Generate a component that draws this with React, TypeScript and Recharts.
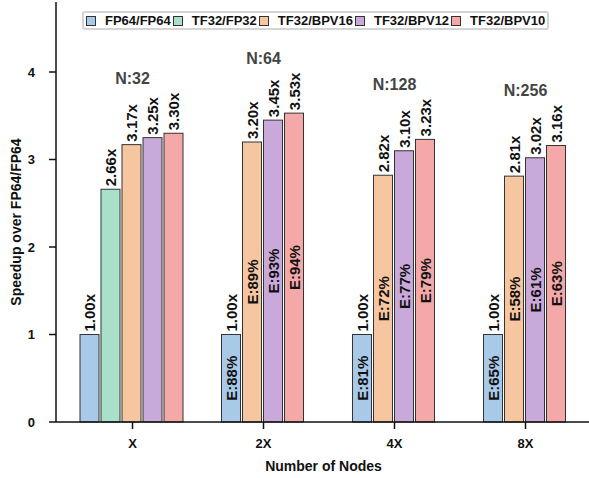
import { BarChart, Bar, XAxis, YAxis, ReferenceDot } from 'recharts'

// Node-count groups along the x axis
const categories = ['X', '2X', '4X', '8X']
const nodeCounts = ['N:32', 'N:64', 'N:128', 'N:256']

// Speedup over FP64/FP64 for each configuration
const fp64 = [1.0, 1.0, 1.0, 1.0]
const tf32Fp32 = [2.66, null, null, null]
const tf32Bpv16 = [3.17, 3.2, 2.82, 2.81]
const tf32Bpv12 = [3.25, 3.45, 3.1, 3.02]
const tf32Bpv10 = [3.3, 3.53, 3.23, 3.16]

// Parallel efficiency (%) shown inside the bars
const effFp64 = [null, 88, 81, 65]
const effBpv16 = [null, 89, 72, 58]
const effBpv12 = [null, 93, 77, 61]
const effBpv10 = [null, 94, 79, 63]

const yTicks = [0, 1, 2, 3, 4]

const FONT = '"Liberation Sans", Arial, Helvetica, sans-serif'
const BAR_GAP = 2

const series = [
  { key: 'fp64', eff: 'effFp64', name: 'FP64/FP64', color: '#a9c9e8' },
  { key: 'fp32', eff: null, name: 'TF32/FP32', color: '#a9e0c9' },
  { key: 'bpv16', eff: 'effBpv16', name: 'TF32/BPV16', color: '#f6c6a0' },
  { key: 'bpv12', eff: 'effBpv12', name: 'TF32/BPV12', color: '#c9a9d9' },
  { key: 'bpv10', eff: 'effBpv10', name: 'TF32/BPV10', color: '#f4a8a8' },
]

const data = categories.map((category, i) => ({
  category,
  nodes: nodeCounts[i],
  fp64: fp64[i],
  fp32: tf32Fp32[i],
  bpv16: tf32Bpv16[i],
  bpv12: tf32Bpv12[i],
  bpv10: tf32Bpv10[i],
  effFp64: effFp64[i],
  effBpv16: effBpv16[i],
  effBpv12: effBpv12[i],
  effBpv10: effBpv10[i],
}))

// Bar with its speedup label on top and efficiency label inside.
// Groups without a TF32/FP32 bar get their remaining bars pulled together.
function makeShape(key: string, effKey: string | null) {
  return (props: any) => {
    const { x, y, width, height, payload, fill } = props
    const value = payload[key]
    if (value == null) return <g />
    let shift = 0
    if (payload.fp32 == null) {
      shift = key === 'fp64' ? (width + BAR_GAP) / 2 : -(width + BAR_GAP) / 2
    }
    const bx = x + shift
    const cx = bx + width / 2
    const ty = y - 3
    const eff = effKey ? payload[effKey] : null
    const cy = y + height / 2
    return (
      <g>
        <rect x={bx} y={y} width={width} height={height} fill={fill} stroke="#333" strokeWidth={1} />
        <text
          x={cx}
          y={ty}
          transform={`rotate(-90 ${cx} ${ty})`}
          textAnchor="start"
          dominantBaseline="central"
          fontSize={15}
          fontWeight="bold"
          fill="#111"
        >
          {`${value.toFixed(2)}x`}
        </text>
        {eff != null && (
          <text
            x={cx}
            y={cy}
            transform={`rotate(-90 ${cx} ${cy})`}
            textAnchor="middle"
            dominantBaseline="central"
            fontSize={15}
            fontWeight="bold"
            fill="#111"
          >
            {`E:${eff}%`}
          </text>
        )}
      </g>
    )
  }
}

function YTitle(props: any) {
  const { viewBox } = props
  const cx = viewBox.x + 16
  const cy = viewBox.y + viewBox.height / 2 + 10
  return (
    <text
      x={cx}
      y={cy}
      transform={`rotate(-90 ${cx} ${cy})`}
      textAnchor="middle"
      dominantBaseline="central"
      fontSize={14}
      fontWeight="bold"
      fill="#111"
    >
      Speedup over FP64/FP64
    </text>
  )
}

function NodeLabel(text: string) {
  return (props: any) => {
    const { viewBox } = props
    const cx = viewBox.x + (viewBox.width || 0) / 2
    const cy = viewBox.y - 55
    return (
      <text x={cx} y={cy} textAnchor="middle" dominantBaseline="central" fontSize={16} fontWeight="bold" fill="#444">
        {text}
      </text>
    )
  }
}

function ChartLegend() {
  return (
    <div
      style={{
        position: 'absolute',
        left: 82,
        top: 11,
        height: 15,
        display: 'flex',
        alignItems: 'center',
        border: '2px solid #d4d4d4',
        borderRadius: 3,
        padding: '0 2px 0 2px',
        background: 'white',
        fontSize: 13,
        fontWeight: 'bold',
        color: '#111',
        whiteSpace: 'nowrap',
      }}
    >
      {series.map((s, i) => (
        <div
          key={s.key}
          style={{ display: 'flex', alignItems: 'center', marginRight: i === series.length - 1 ? 0 : 2 }}
        >
          <span
            style={{
              display: 'inline-block',
              width: 8,
              height: 8,
              background: s.color,
              border: '1px solid #333',
              marginRight: 9,
            }}
          />
          <span>{s.name}</span>
        </div>
      ))}
    </div>
  )
}

export default function App() {
  return (
    <div
      style={{
        position: 'absolute',
        left: 0,
        top: 0,
        width: 589,
        height: 478,
        overflow: 'hidden',
        background: 'white',
        fontFamily: FONT,
      }}
    >
      <BarChart
        width={591}
        height={478}
        data={data}
        margin={{ top: 2, right: 0, left: 0, bottom: 0 }}
        barGap={BAR_GAP}
        barCategoryGap={13}
      >
        <XAxis
          dataKey="category"
          padding={{ left: 11, right: 0 }}
          height={56}
          tickSize={7}
          tickMargin={10}
          axisLine={{ stroke: '#111', strokeWidth: 1.5 }}
          tickLine={{ stroke: '#111', strokeWidth: 1.5 }}
          tick={{ fill: '#111', fontSize: 13, fontWeight: 'bold' }}
          label={{ value: 'Number of Nodes', position: 'insideBottom', offset: 7, fill: '#111', fontSize: 14, fontWeight: 'bold' }}
        />
        <YAxis
          domain={[0, 4.8]}
          ticks={yTicks}
          width={56}
          tickSize={7}
          tickMargin={14}
          axisLine={{ stroke: '#111', strokeWidth: 1.5 }}
          tickLine={{ stroke: '#111', strokeWidth: 1.5 }}
          tick={{ fill: '#111', fontSize: 13, fontWeight: 'bold' }}
          label={<YTitle />}
        />
        {series.map((s) => (
          <Bar
            key={s.key}
            dataKey={s.key}
            name={s.name}
            fill={s.color}
            isAnimationActive={false}
            shape={makeShape(s.key, s.eff)}
          />
        ))}
        {data.map((d) => (
          <ReferenceDot
            key={d.category}
            x={d.category}
            y={Math.max(d.fp64, d.fp32 ?? 0, d.bpv16, d.bpv12, d.bpv10)}
            r={0}
            fill="none"
            stroke="none"
            label={NodeLabel(d.nodes)}
          />
        ))}
      </BarChart>
      <ChartLegend />
    </div>
  )
}
